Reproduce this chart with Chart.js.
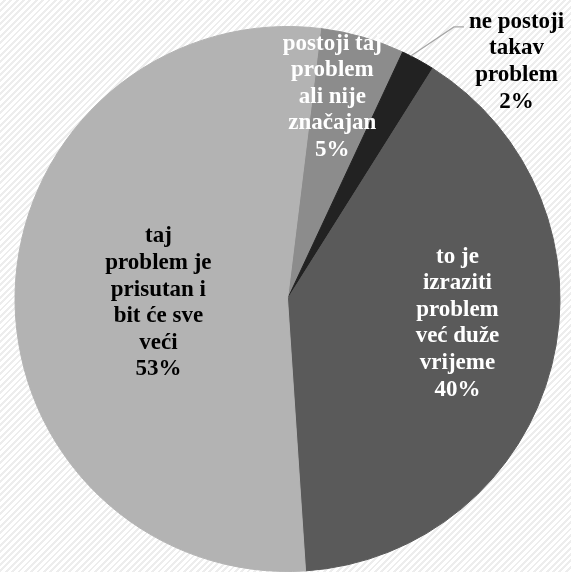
<!DOCTYPE html>
<html>
<head>
<meta charset="utf-8">
<script src="https://cdn.jsdelivr.net/npm/chart.js@4/dist/chart.umd.min.js"></script>
<style>
  html, body { margin: 0; padding: 0; }
  body {
    width: 571px;
    height: 572px;
    overflow: hidden;
    background: repeating-linear-gradient(135deg, #ffffff 0px, #ffffff 2.5px, #ededed 2.5px, #ededed 4.5px);
  }
  #probe { position: absolute; left: -1000px; font: bold 23px "Liberation Serif"; }
</style>
</head>
<body>
<span id="probe">problem</span>
<canvas id="pieChart" width="571" height="572"></canvas>
<script>
// slices go clockwise from the top
const categories = [
  ["postoji taj", "problem", "ali nije", "značajan"],
  ["ne postoji", "takav", "problem"],
  ["to je", "izraziti", "problem", "već duže", "vrijeme"],
  ["taj", "problem je", "prisutan i", "bit će sve", "veći"]
];
const shares = [5, 2, 40, 53];
const sliceColors = ["#8c8c8c", "#222222", "#5a5a5a", "#b3b3b3"];

// label placement: angle shift (deg) from the slice middle and radius fraction
const labelPlace = [
  { da: -3.5, r: 0.76, color: "#ffffff" },
  { da: 15.4, r: 1.21, color: "#000000", leader: true },
  { da: -6.1, r: 0.63, color: "#ffffff" },
  { da: -3.4, r: 0.474, color: "#000000" }
];

const labelFont = 'bold 23px "Liberation Serif", "Times New Roman", "DejaVu Serif", serif';

const sliceLabels = {
  id: "sliceLabels",
  afterDatasetsDraw(chart) {
    const ctx = chart.ctx;
    const meta = chart.getDatasetMeta(0);
    const lineH = 26.6;
    ctx.save();
    ctx.font = labelFont;
    ctx.textAlign = "center";
    ctx.textBaseline = "middle";
    meta.data.forEach((arc, i) => {
      const p = labelPlace[i];
      const mid = (arc.startAngle + arc.endAngle) / 2;
      const ang = mid + p.da * Math.PI / 180;
      const r = arc.outerRadius * p.r;
      const x = arc.x + Math.cos(ang) * r;
      const y = arc.y + Math.sin(ang) * r;
      const lines = categories[i].concat([shares[i] + "%"]);
      const top = y - (lines.length - 1) * lineH / 2;

      if (p.leader) {
        const w = ctx.measureText(lines[0]).width;
        const left = x - w / 2;
        const sx = arc.x + Math.cos(mid - 0.03) * arc.outerRadius;
        const sy = arc.y + Math.sin(mid - 0.03) * arc.outerRadius;
        ctx.strokeStyle = "#a6a6a6";
        ctx.lineWidth = 1.2;
        ctx.beginPath();
        ctx.moveTo(sx, sy);
        ctx.lineTo(left - 15, top + 5);
        ctx.lineTo(left - 5, top + 5);
        ctx.stroke();
      }

      ctx.fillStyle = p.color;
      lines.forEach((t, k) => ctx.fillText(t, x, top + k * lineH));
    });
    ctx.restore();
  }
};

function drawChart() {
  new Chart(document.getElementById("pieChart"), {
    type: "pie",
    data: {
      labels: categories.map((c) => c.join(" ")),
      datasets: [
        {
          data: shares,
          backgroundColor: sliceColors,
          borderColor: sliceColors,
          borderWidth: 1
        }
      ]
    },
    options: {
      responsive: false,
      animation: false,
      rotation: 7,
      layout: { padding: { top: 26, left: 13, right: 9, bottom: 0 } },
      plugins: {
        legend: { display: false },
        tooltip: { enabled: false }
      }
    },
    plugins: [sliceLabels]
  });
}

document.fonts.load(labelFont).then(drawChart, drawChart);
</script>
</body>
</html>
